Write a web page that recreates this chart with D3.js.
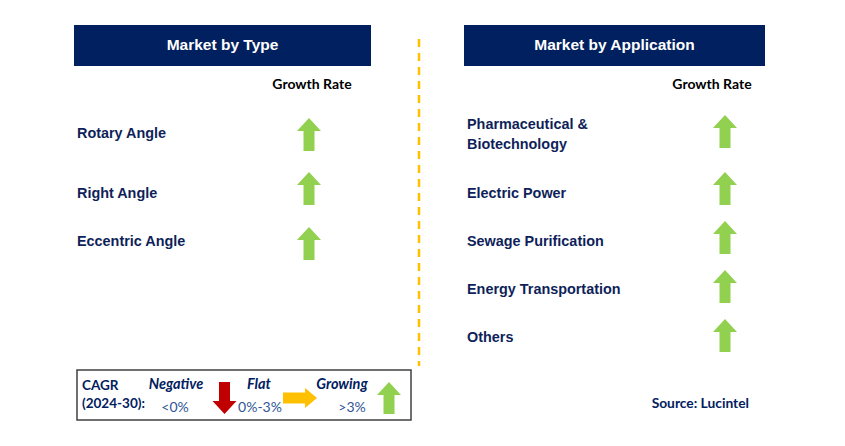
<!DOCTYPE html>
<html><head><meta charset="utf-8">
<script src="https://cdn.jsdelivr.net/npm/d3@7"></script>
<style>body{margin:0;background:#fff}svg{display:block}</style>
</head><body>
<script>
const typeCategories = ["Rotary Angle", "Right Angle", "Eccentric Angle"];
const typeGrowth = ["growing", "growing", "growing"];
const appCategories = [["Pharmaceutical &", "Biotechnology"], ["Electric Power"], ["Sewage Purification"], ["Energy Transportation"], ["Others"]];
const appGrowth = ["growing", "growing", "growing", "growing", "growing"];
const legendItems = [
  {label: "Negative", range: "<0%", kind: "negative"},
  {label: "Flat", range: "0%-3%", kind: "flat"},
  {label: "Growing", range: ">3%", kind: "growing"}
];

const W = 845, H = 446;
const navy = "#002060", green = "#92d050", red = "#c00000", gold = "#ffc000";
const svg = d3.select("body").append("svg").attr("width", W).attr("height", H);
svg.append("rect").attr("width", W).attr("height", H).attr("fill", "#fff");

function upArrow(w, h, headH, shaftW) {
  const p = d3.path();
  p.moveTo(0, 0); p.lineTo(w/2, headH); p.lineTo(shaftW/2, headH); p.lineTo(shaftW/2, h);
  p.lineTo(-shaftW/2, h); p.lineTo(-shaftW/2, headH); p.lineTo(-w/2, headH); p.closePath();
  return p.toString();
}

function panel(x0, x1, title, cats, growth, yScale, arrowTop, arrowX, growthX) {
  svg.append("rect").attr("x", x0).attr("y", 25).attr("width", x1 - x0).attr("height", 41).attr("fill", navy);
  svg.append("text").attr("x", (x0 + x1)/2).attr("y", 46).attr("text-anchor", "middle").attr("dominant-baseline", "middle")
    .attr("fill", "#fff").attr("font-family", "Liberation Sans, Arial, sans-serif").attr("font-weight", "bold").attr("font-size", 15.5).text(title);
  svg.append("text").attr("x", growthX).attr("y", 85).attr("text-anchor", "middle").attr("dominant-baseline", "middle")
    .attr("fill", "#000").attr("font-family", "Lato, sans-serif").attr("font-weight", "bold").attr("font-size", 14).text("Growth Rate");
  const g = svg.append("g");
  cats.forEach((c, i) => {
    const lines = Array.isArray(c) ? c : [c];
    const cy = yScale(i) + 1.5;
    const t = g.append("text").attr("x", x0 + 3).attr("fill", "#0f1f5a")
      .attr("font-family", "Liberation Sans, Arial, sans-serif").attr("font-weight", "bold").attr("font-size", 14.4);
    lines.forEach((l, j) => {
      t.append("tspan").attr("x", x0 + 3).attr("y", cy + (j - (lines.length - 1)/2) * 20).attr("dominant-baseline", "middle").text(l);
    });
    if (growth[i] === "growing") {
      g.append("path").attr("d", upArrow(24, 33, 13, 11)).attr("fill", green)
        .attr("transform", `translate(${arrowX},${arrowTop(i)})`);
    }
  });
}

panel(74, 371, "Market by Type", typeCategories, typeGrowth,
  d3.scaleLinear().domain([0, 1, 2]).range([133, 193, 241]),
  d3.scaleLinear().domain([0, 1, 2]).range([118, 172, 227]), 309, 312);
panel(464, 765, "Market by Application", appCategories, appGrowth,
  d3.scaleLinear().domain([0, 1, 4]).range([134, 193, 337]),
  d3.scaleLinear().domain([0, 1, 4]).range([115, 172, 319]), 725, 712);

// dashed divider
svg.append("line").attr("x1", 419).attr("x2", 419).attr("y1", 39).attr("y2", 366)
  .attr("stroke", gold).attr("stroke-width", 2.5).attr("stroke-dasharray", "8,6");

// legend
svg.append("rect").attr("x", 77).attr("y", 370).attr("width", 334).attr("height", 50)
  .attr("fill", "#fff").attr("stroke", "#404040").attr("stroke-width", 1.5);
const lf = "Lato, sans-serif";
svg.append("text").attr("x", 82).attr("y", 387).attr("dominant-baseline", "middle").attr("fill", navy)
  .attr("font-family", lf).attr("font-weight", "bold").attr("font-size", 13.5).text("CAGR");
svg.append("text").attr("x", 82).attr("y", 405).attr("dominant-baseline", "middle").attr("fill", navy)
  .attr("font-family", lf).attr("font-weight", "bold").attr("font-size", 13.5).text("(2024-30):");
const lx = d3.scalePoint().domain(legendItems.map(d => d.kind)).range([176, 342]);
const rangeX = {negative: 175, flat: 260, growing: 352};
legendItems.forEach(d => {
  const cx = lx(d.kind);
  svg.append("text").attr("x", cx).attr("y", 385).attr("text-anchor", "middle").attr("dominant-baseline", "middle")
    .attr("fill", navy).attr("font-family", lf).attr("font-weight", "bold").attr("font-style", "italic").attr("font-size", 14.5).text(d.label);
  svg.append("text").attr("x", rangeX[d.kind]).attr("y", 408).attr("text-anchor", "middle").attr("dominant-baseline", "middle")
    .attr("fill", "#2f5597").attr("font-family", lf).attr("font-size", 14).text(d.range);
});
svg.append("path").attr("d", upArrow(24, 32, 13, 11)).attr("fill", red).attr("transform", "translate(224.5,414) rotate(180)");
svg.append("path").attr("d", upArrow(20, 34, 12, 11)).attr("fill", gold).attr("transform", "translate(317,398) rotate(90)");
svg.append("path").attr("d", upArrow(24, 32, 13, 11)).attr("fill", green).attr("transform", "translate(389,382)");

svg.append("text").attr("x", 749).attr("y", 404).attr("text-anchor", "end").attr("dominant-baseline", "middle")
  .attr("fill", navy).attr("font-family", lf).attr("font-weight", "bold").attr("font-size", 13.8).text("Source: Lucintel");
</script>
</body></html>
